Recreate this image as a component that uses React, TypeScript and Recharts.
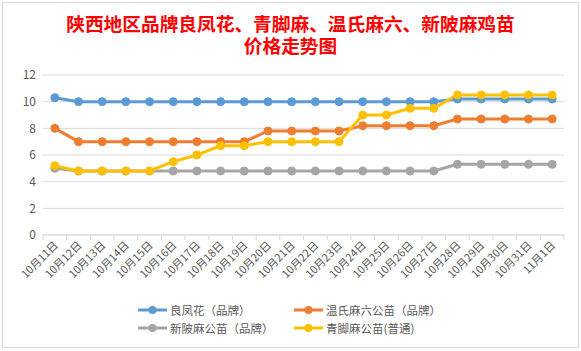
import React from 'react';
import { LineChart, Line, XAxis, YAxis, CartesianGrid, Legend } from 'recharts';

const dates = [
  '10月11日', '10月12日', '10月13日', '10月14日', '10月15日', '10月16日', '10月17日', '10月18日',
  '10月19日', '10月20日', '10月21日', '10月22日', '10月23日', '10月24日', '10月25日', '10月26日',
  '10月27日', '10月28日', '10月29日', '10月30日', '10月31日', '11月1日',
];
const liangfenghua = [10.3, 10, 10, 10, 10, 10, 10, 10, 10, 10, 10, 10, 10, 10, 10, 10, 10, 10.2, 10.2, 10.2, 10.2, 10.2];
const wenshi = [8, 7, 7, 7, 7, 7, 7, 7, 7, 7.8, 7.8, 7.8, 7.8, 8.2, 8.2, 8.2, 8.2, 8.7, 8.7, 8.7, 8.7, 8.7];
const xinpi = [5, 4.8, 4.8, 4.8, 4.8, 4.8, 4.8, 4.8, 4.8, 4.8, 4.8, 4.8, 4.8, 4.8, 4.8, 4.8, 4.8, 5.3, 5.3, 5.3, 5.3, 5.3];
const qingjiao = [5.2, 4.8, 4.8, 4.8, 4.8, 5.5, 6, 6.7, 6.7, 7, 7, 7, 7, 9, 9, 9.5, 9.5, 10.5, 10.5, 10.5, 10.5, 10.5];
const yTicks = [0, 2, 4, 6, 8, 10, 12];

const series = [
  { key: 'lfh', name: '良凤花（品牌）', color: '#5b9bd5' },
  { key: 'ws', name: '温氏麻六公苗（品牌）', color: '#ed7d31' },
  { key: 'xp', name: '新陂麻公苗（品牌）', color: '#a5a5a5' },
  { key: 'qj', name: '青脚麻公苗(普通)', color: '#ffc000' },
];

const data = dates.map((d, i) => ({
  date: d,
  lfh: liangfenghua[i],
  ws: wenshi[i],
  xp: xinpi[i],
  qj: qingjiao[i],
}));

const FONT = '"Noto Sans CJK SC", "Noto Sans", sans-serif';

const XTick = (props: any) => {
  const { x, y, payload, index } = props;
  const off = payload.offset ?? 0;
  return (
    <g>
      <line x1={x - off} x2={x - off} y1={y} y2={y + 5} stroke="#d9d9d9" />
      {index === dates.length - 1 && (
        <line x1={x + off} x2={x + off} y1={y} y2={y + 5} stroke="#d9d9d9" />
      )}
      <text
        x={x + 4}
        y={y + 11}
        transform={`rotate(-45, ${x + 4}, ${y + 11})`}
        textAnchor="end"
        fontSize={11}
        fill="#595959"
        fontFamily={FONT}
      >
        {payload.value}
      </text>
    </g>
  );
};

const LegendBox = () => (
  <div style={{ display: 'grid', gridTemplateColumns: '156px 170px', rowGap: 2, marginLeft: 137, fontFamily: FONT, fontSize: 11.5, color: '#595959' }}>
    {series.map((s) => (
      <div key={s.key} style={{ display: 'flex', alignItems: 'center', height: 16 }}>
        <svg width={31} height={10} style={{ marginRight: 2 }}>
          <line x1={1} x2={30} y1={5} y2={5} stroke={s.color} strokeWidth={3} />
          <circle cx={15.5} cy={5} r={4} fill={s.color} />
        </svg>
        <span>{s.name}</span>
      </div>
    ))}
  </div>
);

export default function App() {
  return (
    <div style={{ position: 'absolute', left: 0, top: 0, width: 581, height: 351, background: '#fff' }}>
      <div style={{ position: 'absolute', left: 2, top: 2, width: 575, height: 344, border: '1px solid #d9d9d9' }} />
      <div
        style={{
          position: 'absolute',
          left: 0,
          top: 12,
          width: 581,
          textAlign: 'center',
          color: '#ff0000',
          fontWeight: 'bold',
          fontSize: 18.7,
          lineHeight: '22px',
          fontFamily: FONT,
        }}
      >
        陕西地区品牌良凤花、青脚麻、温氏麻六、新陂麻鸡苗
        <br />
        价格走势图
      </div>
      <div style={{ position: 'absolute', left: 0, top: 0 }}>
        <LineChart width={581} height={351} data={data} margin={{ top: 75, right: 17, left: 0, bottom: 56 }}>
          <CartesianGrid vertical={false} stroke="#d9d9d9" />
          <XAxis
            dataKey="date"
            scale="band"
            interval={0}
            height={60}
            tickSize={0}
            tickMargin={0}
            tickLine={false}
            stroke="#d9d9d9"
            tick={<XTick />}
          />
          <YAxis
            domain={[0, 12]}
            ticks={yTicks}
            width={43}
            axisLine={false}
            tickLine={false}
            tickSize={0}
            tickMargin={7}
            tick={{ fill: '#595959', fontSize: 12, fontFamily: FONT }}
          />
          {series.map((s) => (
            <Line
              key={s.key}
              dataKey={s.key}
              name={s.name}
              stroke={s.color}
              strokeWidth={3}
              dot={{ r: 4, fill: s.color, stroke: s.color, strokeWidth: 1 }}
              isAnimationActive={false}
            />
          ))}
          <Legend verticalAlign="middle" align="center" layout="horizontal" wrapperStyle={{ top: 302, left: 0, width: 581 }} content={<LegendBox />} />
        </LineChart>
      </div>
    </div>
  );
}
